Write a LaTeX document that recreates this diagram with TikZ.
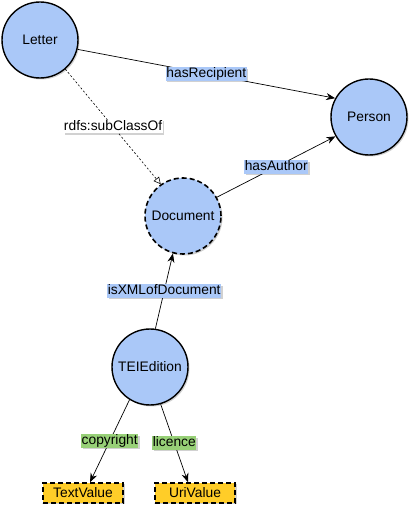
\documentclass[tikz,border=0pt]{standalone}
\usepackage{fontspec}
\setmainfont{Liberation Sans}
\usetikzlibrary{arrows.meta,positioning,shadows}
\definecolor{classblue}{HTML}{AAC8F8}
\definecolor{propgreen}{HTML}{97D077}
\definecolor{valyellow}{HTML}{FFCD28}

\begin{document}
\begin{tikzpicture}[
  x=1pt, y=1pt,
  font=\fontsize{13.8}{16}\selectfont,
  shade/.style={drop shadow={shadow xshift=1.5pt, shadow yshift=-1.5pt, opacity=0.18, fill=black}},
  cls/.style={circle, draw, line width=1.4pt, fill=classblue, minimum size=76pt, inner sep=0pt, shade},
  absclass/.style={cls, dashed, line width=1.6pt, dash pattern=on 5pt off 3pt},
  literal/.style={draw, dashed, dash pattern=on 5pt off 3pt, line width=1.5pt, fill=valyellow, minimum width=80pt, minimum height=20pt, inner sep=0pt, shade},
  prop/.style={fill=classblue, inner xsep=0.5pt, inner ysep=0.5pt, text height=10pt, text depth=2.5pt, shade},
  dprop/.style={prop, fill=propgreen},
  plain/.style={fill=white, inner xsep=0.5pt, inner ysep=0.5pt, text height=10pt, text depth=2.5pt, shade},
  arrow/.style={-{Stealth[length=9pt, width=7pt]}, line width=0.7pt},
  subcls/.style={-{Triangle[open, length=7pt, width=7pt]}, line width=0.6pt, dash pattern=on 2pt off 2pt}
]
\useasboundingbox (0,0) rectangle (420,515);

\node[cls] (letter) at (40,475) {Letter};
\node[cls] (person) at (369,398) {Person};
\node[absclass] (document) at (183,299) {Document};
\node[cls] (edition) at (150,148) {TEIEdition};
\node[literal] (textval) at (83,22) {TextValue};
\node[literal] (urival) at (195,22) {UriValue};

\draw[arrow] (letter.-14) -- node[prop]{hasRecipient} (person.151);
\draw[subcls] (letter.-49) -- node[plain]{rdfs:subClassOf} (document.125);
\draw[arrow] (document.29) -- node[prop]{hasAuthor} (person.210);
\draw[arrow] (edition.82) -- node[prop]{isXMLofDocument} (document.255);
\draw[arrow] (edition.238) -- node[dprop]{copyright} ([xshift=7pt]textval.north);
\draw[arrow] (edition.286) -- node[dprop]{licence} ([xshift=-7pt]urival.north);
\end{tikzpicture}
\end{document}
